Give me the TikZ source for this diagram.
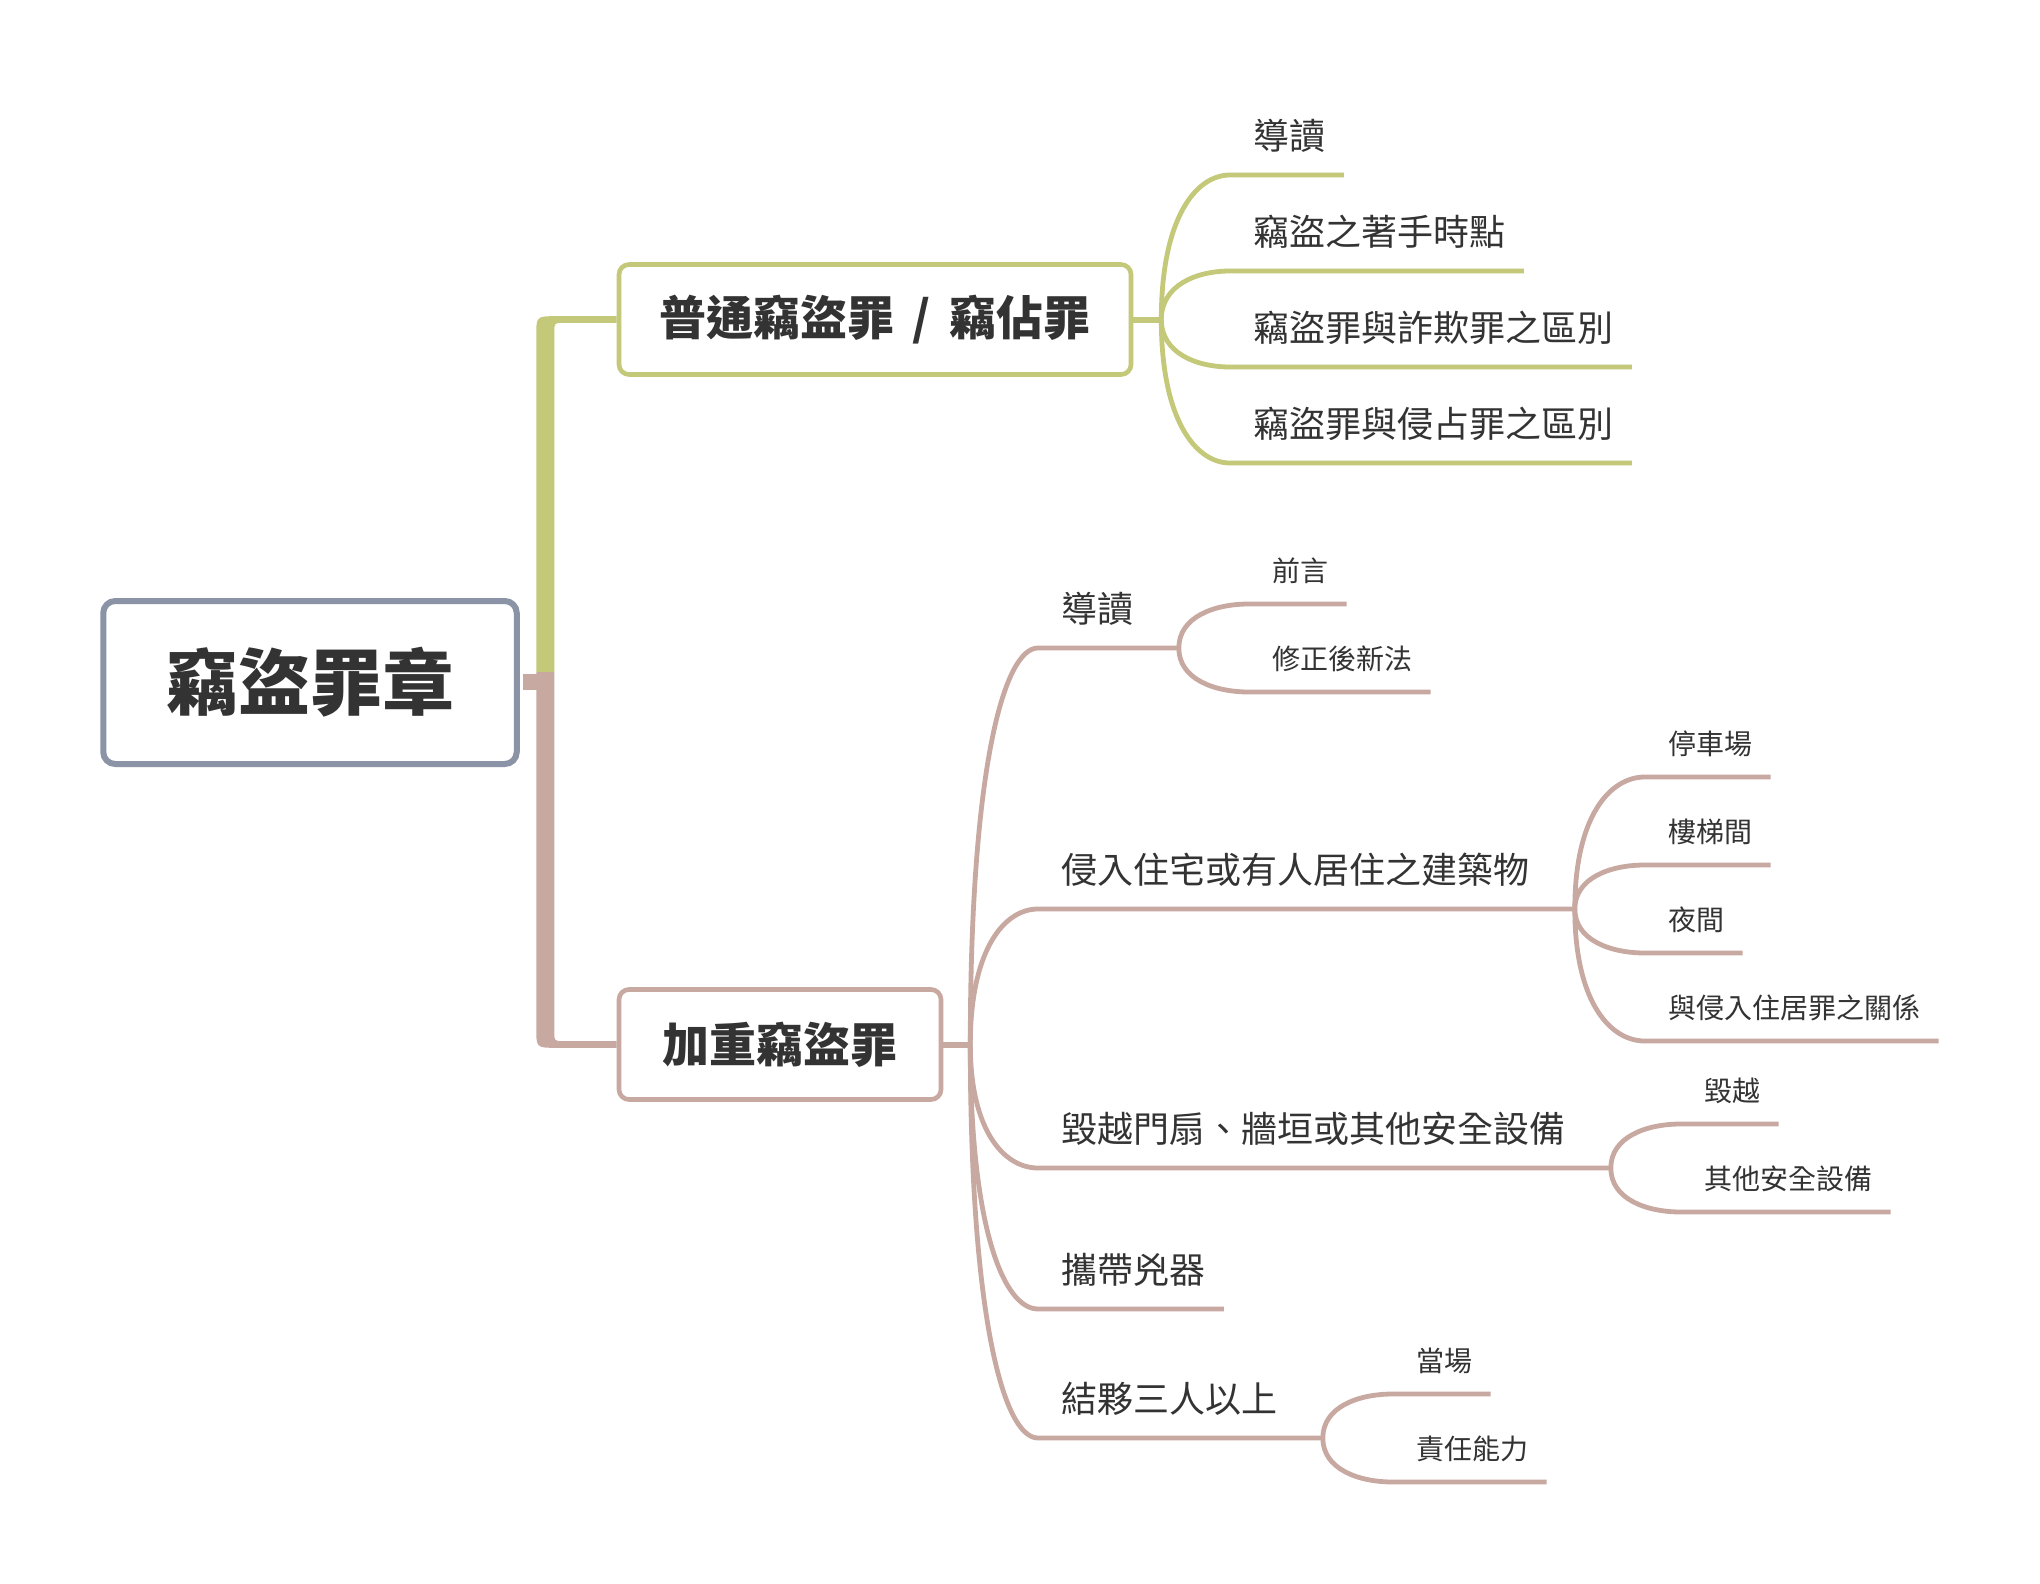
\documentclass[tikz,border=0pt]{standalone}
\usepackage{fontspec}
\setmainfont{Noto Sans CJK TC}
\usetikzlibrary{calc}
\definecolor{kgray}{HTML}{8A94A6}
\definecolor{kolive}{HTML}{C3C978}
\definecolor{krose}{HTML}{C8A9A1}
\definecolor{kink}{HTML}{333333}
\tikzset{
  twigto/.style={to path={.. controls ($(\tikztostart)!0.7!(\tikztostart |- \tikztotarget)$) and ($(\tikztostart |- \tikztotarget)!0.5!(\tikztotarget)$) .. (\tikztotarget)}},
}
\begin{document}
\begin{tikzpicture}[x=0.5pt, y=-0.5pt,
  rootbox/.style={draw=kgray, line width=3pt, rounded corners=6pt, fill=white, text=kink,
    font=\fontsize{36pt}{40pt}\selectfont\bfseries, minimum width=206.75pt, minimum height=81.5pt, inner sep=0pt},
  mainbox/.style={line width=2.3pt, rounded corners=5pt, fill=white, text=kink,
    font=\fontsize{23.5pt}{28pt}\selectfont\bfseries, minimum height=55pt, inner sep=0pt},
  leafa/.style={anchor=south west, text=kink, font=\fontsize{18pt}{20pt}\selectfont,
    inner xsep=9pt, inner ysep=10.5pt, text height=15.8pt, text depth=2.2pt,
    execute at begin node=\hspace*{2.5pt}},
  leafb/.style={leafa, font=\fontsize{14pt}{16pt}\selectfont, inner ysep=9.5pt,
    text height=12.3pt, text depth=1.7pt},
  gtwig/.style={draw=kolive, line width=2.4pt},
  rtwig/.style={draw=krose, line width=2.4pt}]
\fill[white] (0,0) rectangle (2040,1584);
\useasboundingbox (0,0) rectangle (2040,1584);

% main topic and the two branches
\node[rootbox] (root) at (310,682.5) {竊盜罪章};
\node[mainbox, draw=kolive, minimum width=256pt] (b1) at (875,319.5) {普通竊盜罪\hspace{4pt} / \hspace{4pt}竊佔罪};
\node[mainbox, draw=krose, minimum width=161pt] (b2) at (780,1044.5) {加重竊盜罪};

% trunk
\coordinate (hub) at ($(root.east)+(25.5,-1.5)$);
\coordinate (e1) at (hub |- b1.west);
\coordinate (e2) at (hub |- b2.west);
\fill[kolive] ($(hub)+(-9,-9)$) -- ($(e1)+(-9,17)$) .. controls ($(e1)+(-9,-3.3)$) .. ($(e1)+(11,-3.3)$)
  -- ($(b1.west)+(0,-3.3)$) -- ($(b1.west)+(0,3.3)$) -- ($(e1)+(19,3.3)$)
  .. controls ($(e1)+(9,3.3)$) .. ($(e1)+(9,13)$) -- ($(hub)+(9,-9)$) -- cycle;
\fill[krose] ($(hub)+(-9,-9)$) -- ($(e2)+(-9,-17)$) .. controls ($(e2)+(-9,3.3)$) .. ($(e2)+(11,3.3)$)
  -- ($(b2.west)+(0,3.3)$) -- ($(b2.west)+(0,-3.3)$) -- ($(e2)+(19,-3.3)$)
  .. controls ($(e2)+(9,-3.3)$) .. ($(e2)+(9,-13)$) -- ($(hub)+(9,-9)$) -- cycle;
\fill[krose] ($(root.east)+(3,-9)$) rectangle ($(hub)+(9,9)$);

% 普通竊盜罪
\coordinate (j1) at ($(b1.east)+(28,0)$);
\draw[gtwig, line width=3pt] (b1.east) -- (j1);
\node[leafa] (g1) at (1230,175) {導讀};
\node[leafa] (g2) at (1230,271) {竊盜之著手時點};
\node[leafa] (g3) at (1230,367) {竊盜罪與詐欺罪之區別};
\node[leafa] (g4) at (1230,463) {竊盜罪與侵占罪之區別};
\draw[gtwig] (j1) to[twigto] (g1.south west) -- (g1.south east);
\draw[gtwig] (j1) to[twigto] (g2.south west) -- (g2.south east);
\draw[gtwig] (j1) to[twigto] (g3.south west) -- (g3.south east);
\draw[gtwig] (j1) to[twigto] (g4.south west) -- (g4.south east);

% 加重竊盜罪
\coordinate (j2) at ($(b2.east)+(27,0)$);
\draw[rtwig, line width=3pt] (b2.east) -- (j2);
\node[leafa] (r1) at (1038,648) {導讀};
\node[leafa] (r2) at (1038,909) {侵入住宅或有人居住之建築物};
\node[leafa] (r3) at (1038,1168) {毀越門扇、牆垣或其他安全設備};
\node[leafa] (r4) at (1038,1309) {攜帶兇器};
\node[leafa] (r5) at (1038,1438) {結夥三人以上};
\coordinate (s1) at ($(r1.south east)+(27,0)$);
\coordinate (s2) at ($(r2.south east)+(27,0)$);
\coordinate (s3) at ($(r3.south east)+(27,0)$);
\coordinate (s5) at ($(r5.south east)+(27,0)$);
\draw[rtwig] (j2) to[twigto] (r1.south west) -- (s1);
\draw[rtwig] (j2) to[twigto] (r2.south west) -- (s2);
\draw[rtwig] (j2) to[twigto] (r3.south west) -- (s3);
\draw[rtwig] (j2) to[twigto] (r4.south west) -- (r4.south east);
\draw[rtwig] (j2) to[twigto] (r5.south west) -- (s5);

% third level
\node[leafb] (r1a) at ($(s1)+(70,-44)$) {前言};
\node[leafb] (r1b) at ($(s1)+(70,44)$) {修正後新法};
\node[leafb] (r2a) at ($(s2)+(70,-132)$) {停車場};
\node[leafb] (r2b) at ($(s2)+(70,-44)$) {樓梯間};
\node[leafb] (r2c) at ($(s2)+(70,44)$) {夜間};
\node[leafb] (r2d) at ($(s2)+(70,132)$) {與侵入住居罪之關係};
\node[leafb] (r3a) at ($(s3)+(70,-44)$) {毀越};
\node[leafb] (r3b) at ($(s3)+(70,44)$) {其他安全設備};
\node[leafb] (r5a) at ($(s5)+(70,-44)$) {當場};
\node[leafb] (r5b) at ($(s5)+(70,44)$) {責任能力};
\draw[rtwig] (s1) to[twigto] (r1a.south west) -- (r1a.south east);
\draw[rtwig] (s1) to[twigto] (r1b.south west) -- (r1b.south east);
\draw[rtwig] (s2) to[twigto] (r2a.south west) -- (r2a.south east);
\draw[rtwig] (s2) to[twigto] (r2b.south west) -- (r2b.south east);
\draw[rtwig] (s2) to[twigto] (r2c.south west) -- (r2c.south east);
\draw[rtwig] (s2) to[twigto] (r2d.south west) -- (r2d.south east);
\draw[rtwig] (s3) to[twigto] (r3a.south west) -- (r3a.south east);
\draw[rtwig] (s3) to[twigto] (r3b.south west) -- (r3b.south east);
\draw[rtwig] (s5) to[twigto] (r5a.south west) -- (r5a.south east);
\draw[rtwig] (s5) to[twigto] (r5b.south west) -- (r5b.south east);
\end{tikzpicture}
\end{document}
